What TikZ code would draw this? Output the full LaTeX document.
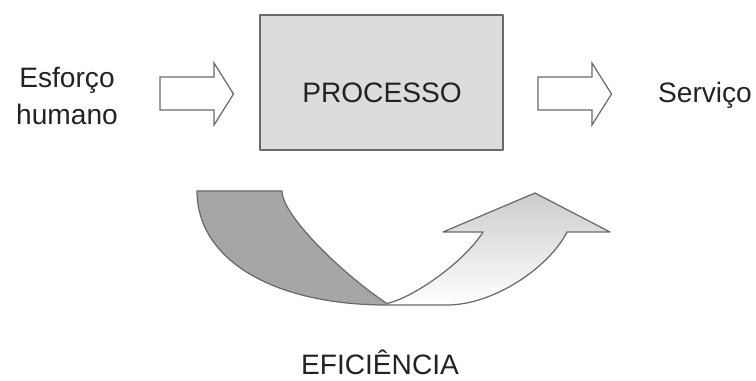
\documentclass[tikz,border=0pt]{standalone}
\usepackage{fontspec}
\setmainfont{Liberation Sans}
\usepackage{tikz}
\definecolor{cinzaCaixa}{RGB}{220,220,220}
\definecolor{cinzaBorda}{RGB}{105,105,105}
\definecolor{cinzaEscuro}{RGB}{166,166,166}
\definecolor{cinzaTexto}{RGB}{35,35,35}
\tikzset{
  texto/.style={text=cinzaTexto, font=\fontsize{16}{21.6}\selectfont, inner sep=0pt},
  caixa/.style={draw=cinzaBorda, fill=cinzaCaixa, line width=0.8pt, minimum width=4.86cm, minimum height=2.7cm, inner sep=0pt},
  seta/.style={draw=cinzaBorda, fill=white, line width=0.7pt, line join=miter},
}

\begin{document}
\begin{tikzpicture}[line join=round]
        \useasboundingbox (0,0) rectangle (15.12,7.62);
        % caixa do processo
        \node[caixa] (proc) at (7.63,5.97) {};
        \node[texto,anchor=base] (proctxt) at (7.64,5.56) {PROCESSO};
        % entrada e saida
        \node[texto,anchor=base,align=center] (entrada) at (1.34,5.12) {Esforço\\humano};
        \node[texto,anchor=base] (saida) at (14.1,5.56) {Serviço};
        % setas largas
        \foreach \xa in {3.2,10.76} {
                \draw[seta] (\xa,6.08) -- ++(1.08,0) -- ++(0,0.28) -- (\xa+1.47,5.74)
                        -- (\xa+1.08,5.12) -- ++(0,0.3) -- (\xa,5.42) -- cycle;
                }
        % seta curva
        \coordinate (A) at (3.94,3.8);
        \coordinate (B) at (5.64,3.8);
        \coordinate (P) at (7.74,1.55);
        \coordinate (H) at (7.74,1.52);
        \coordinate (G) at (8.94,1.52);
        \coordinate (C) at (9.66,2.98);
        \coordinate (D) at (8.86,2.98);
        \coordinate (T) at (10.7,3.76);
        \coordinate (E) at (12.2,2.98);
        \coordinate (F) at (11.34,2.98);
        \fill[cinzaEscuro] (A) -- (B) .. controls (5.64,3.3) and (6.9,2.1) .. (P)
                -- (H) .. controls (5.46,1.52) and (3.94,2.43) .. (A) -- cycle;
        \shade[top color=gray!40, bottom color=white] (P) .. controls (8.3,1.68) and (9.3,2.4) .. (C)
                -- (D) -- (T) -- (E) -- (F) .. controls (11.0,2.3) and (9.9,1.52) .. (G) -- (H) -- cycle;
        \draw[cinzaBorda, line width=0.7pt] (A) -- (B) .. controls (5.64,3.3) and (6.9,2.1) .. (P)
                .. controls (8.3,1.68) and (9.3,2.4) .. (C) -- (D) -- (T) -- (E) -- (F)
                .. controls (11.0,2.3) and (9.9,1.52) .. (G) -- (H)
                .. controls (5.46,1.52) and (3.94,2.43) .. (A) -- cycle;
        \node[texto,anchor=base] (efic) at (7.6,0.12) {EFICIÊNCIA};
\end{tikzpicture}
\end{document}
